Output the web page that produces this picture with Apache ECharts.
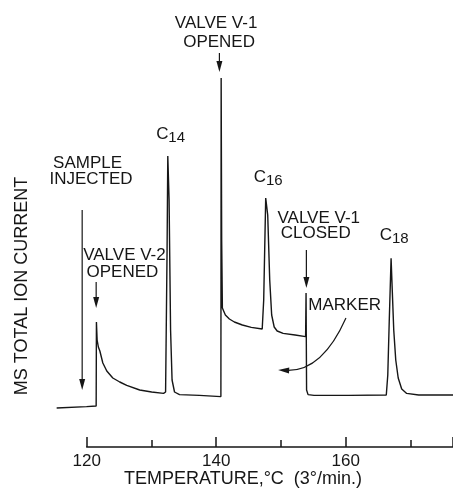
<!DOCTYPE html>
<html>
<head>
<meta charset="utf-8">
<script src="https://cdn.jsdelivr.net/npm/echarts@6/dist/echarts.min.js"></script>
<style>
  html, body { margin: 0; padding: 0; background: #fff; }
  #chart { width: 453px; height: 489px; }
</style>
</head>
<body>
<div id="chart"></div>
<script>
// column temperature, °C (3°/min program)
const temps = [115.38, 120.0, 121.48, 121.52, 121.63, 121.82, 122.05, 122.51, 123.12, 124.05,
  125.12, 126.2, 128.2, 130.05, 131.89, 132.2, 132.43, 132.54, 132.74, 132.97,
  133.2, 133.58, 134.35, 137.43, 140.74, 140.78, 140.86, 140.97, 141.43, 142.05,
  142.82, 144.05, 145.43, 147.12, 147.35, 147.66, 147.97, 148.28, 148.58, 148.97,
  149.43, 150.35, 152.2, 153.82, 153.89, 153.97, 154.2, 155.12, 160.51, 166.28,
  166.51, 166.74, 167.02, 167.2, 167.43, 167.74, 168.12, 168.66, 169.43, 171.28, 176.6]
// MS total ion current (arbitrary units)
const current = [9.75, 10.1, 10.25, 31.25, 26.75, 25.0, 24.0, 21.0, 19.0, 17.25,
  16.25, 15.4, 14.25, 13.75, 13.4, 13.75, 49.25, 72.75, 61.75, 29.25,
  16.75, 13.75, 13.1, 12.9, 12.6, 92.25, 51.75, 34.75, 33.0, 32.0,
  31.25, 30.5, 29.9, 29.5, 36.75, 62.25, 58.0, 41.75, 33.0, 30.0,
  29.0, 28.4, 28.0, 27.6, 38.5, 14.25, 13.1, 12.9, 12.9, 13.0,
  18.0, 31.75, 47.2, 39.25, 29.25, 21.75, 17.25, 14.5, 13.4, 13.0, 13.0]
const tickLabels = ['120', '140', '160']

// annotation texts, anchored in data coordinates
const notes = [
  { text: 'VALVE V-1', at: [140.0, 106] },
  { text: 'OPENED', at: [140.46, 101.25] },
  { text: 'SAMPLE', at: [120.15, 71] },
  { text: 'INJECTED', at: [120.69, 67] },
  { text: 'VALVE V-2', at: [125.85, 48] },
  { text: 'OPENED', at: [125.54, 43.75] },
  { text: 'VALVE V-1', at: [155.85, 57.25] },
  { text: 'CLOSED', at: [155.38, 53.5] },
  { text: 'MARKER', at: [159.85, 35.5] },
]
const peaks = [
  { sub: '14', at: [131.69, 78.25] },
  { sub: '16', at: [146.77, 67.5] },
  { sub: '18', at: [166.23, 53] },
]
// arrows: from, tip, optional control point for the curved one
const arrows = [
  { from: [140.51, 98.5], to: [140.51, 93.75] },
  { from: [119.32, 59.25], to: [119.32, 14.25] },
  { from: [121.48, 41.25], to: [121.48, 34.75] },
  { from: [153.94, 49.25], to: [153.94, 39.75] },
  { from: [160.05, 32.25], to: [149.58, 19.25], ctrl: [156.35, 18.75] },
]

const ink = '#161616'
const font = 'Liberation Sans'

let chart = echarts.init(document.getElementById('chart'))
let option = {
  backgroundColor: '#fff',
  animation: false,
  grid: [
    // trace area (starts before 120 °C)
    { left: 54.2, right: -1.5, top: 7, bottom: 42 },
    // visible temperature scale
    { left: 86.7, right: -1.5, top: 7, bottom: 42 }
  ],
  xAxis: [
    { gridIndex: 0, type: 'value', min: 115, max: 176.58, show: false },
    {
      gridIndex: 1,
      type: 'value',
      min: 120,
      max: 176.58,
      interval: 20,
      axisLine: { lineStyle: { color: ink, width: 1.5 } },
      axisTick: { inside: true, length: 10, lineStyle: { color: ink, width: 1.5 } },
      minorTick: { show: true, splitNumber: 2, length: 7, lineStyle: { color: ink, width: 1.5 } },
      splitLine: { show: false },
      axisLabel: {
        margin: 6,
        color: ink,
        fontSize: 17,
        fontFamily: font,
        showMaxLabel: false,
        formatter: (v) => tickLabels.includes(String(v)) ? String(v) : ''
      }
    }
  ],
  yAxis: [
    { gridIndex: 0, type: 'value', min: 0, max: 110, show: false },
    { gridIndex: 1, type: 'value', min: 0, max: 110, show: false }
  ],
  series: [
    {
      type: 'line',
      xAxisIndex: 0,
      yAxisIndex: 0,
      data: temps.map((t, i) => [t, current[i]]),
      showSymbol: false,
      clip: false,
      lineStyle: { color: ink, width: 1.4 }
    }
  ]
}
chart.setOption(option)

const toPx = (p) => chart.convertToPixel({ gridIndex: 0 }, p)
let graphics = []

// arrows with narrow filled heads
arrows.forEach(a => {
  const p0 = toPx(a.from), tip = toPx(a.to)
  const c = a.ctrl ? toPx(a.ctrl) : p0
  let dx = tip[0] - c[0], dy = tip[1] - c[1]
  const len = Math.hypot(dx, dy)
  dx /= len; dy /= len
  const headLen = 11, half = 3
  const base = [tip[0] - dx * headLen, tip[1] - dy * headLen]
  const end = [tip[0] - dx * (headLen - 3), tip[1] - dy * (headLen - 3)]
  if (a.ctrl) {
    graphics.push({
      type: 'bezierCurve',
      shape: { x1: p0[0], y1: p0[1], x2: end[0], y2: end[1], cpx1: c[0], cpy1: c[1] },
      style: { stroke: ink, lineWidth: 1.2, fill: null }
    })
  } else {
    graphics.push({
      type: 'line',
      shape: { x1: p0[0], y1: p0[1], x2: end[0], y2: end[1] },
      style: { stroke: ink, lineWidth: 1.2 }
    })
  }
  graphics.push({
    type: 'polygon',
    shape: { points: [tip, [base[0] - dy * half, base[1] + dx * half], [base[0] + dy * half, base[1] - dx * half]] },
    style: { fill: ink }
  })
})

// text labels
notes.forEach(n => {
  const p = toPx(n.at)
  graphics.push({
    type: 'text', x: p[0], y: p[1],
    style: { text: n.text, fill: ink, font: '17px "' + font + '"', align: 'center', verticalAlign: 'middle' }
  })
})
peaks.forEach(k => {
  const p = toPx(k.at)
  graphics.push({
    type: 'text', x: p[0], y: p[1],
    style: { text: 'C', fill: ink, font: '17px "' + font + '"', align: 'center', verticalAlign: 'middle' }
  })
  graphics.push({
    type: 'text', x: p[0] + 6, y: p[1] + 4,
    style: { text: k.sub, fill: ink, font: '15px "' + font + '"', align: 'left', verticalAlign: 'middle' }
  })
})

// axis titles
graphics.push({
  type: 'text', x: 243, y: 479,
  style: { text: 'TEMPERATURE,°C  (3°/min.)', fill: ink, font: '18px "' + font + '"', align: 'center', verticalAlign: 'middle' }
})
graphics.push({
  type: 'text', x: 22, y: 286, rotation: Math.PI / 2,
  style: { text: 'MS TOTAL ION CURRENT', fill: ink, font: '18px "' + font + '"', align: 'center', verticalAlign: 'middle' }
})
chart.setOption({ graphic: graphics })
</script>
</body>
</html>
